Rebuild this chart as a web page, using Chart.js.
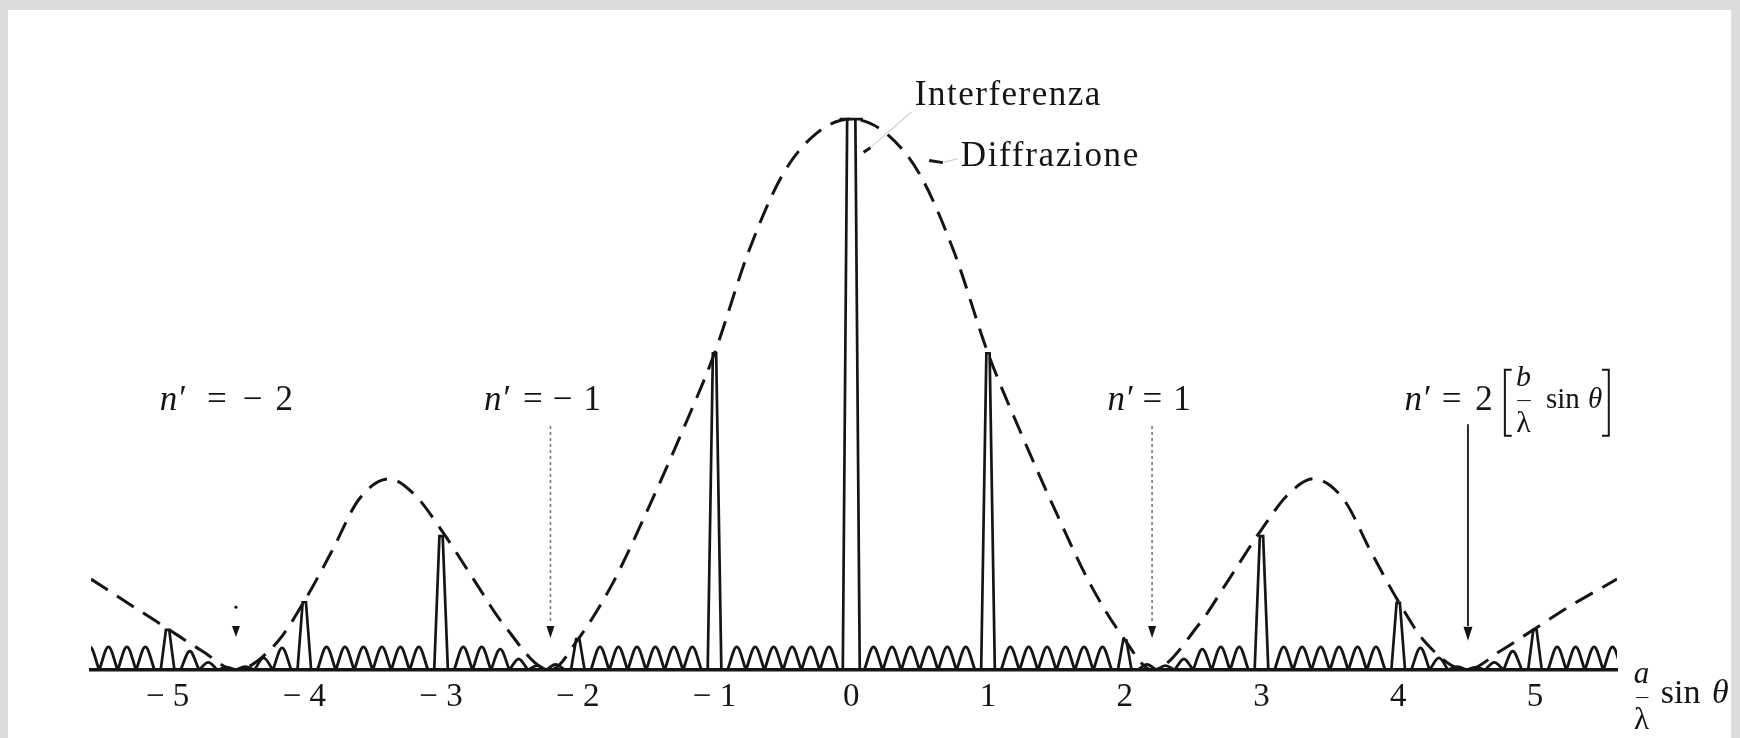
<!DOCTYPE html>
<html>
<head>
<meta charset="utf-8">
<script src="https://cdn.jsdelivr.net/npm/chart.js@4.4.1/dist/chart.umd.min.js"></script>
<style>
  html, body { margin: 0; padding: 0; width: 1740px; height: 738px; overflow: hidden; background: #dcdcdc; }
  #frame { position: absolute; left: 8px; top: 10px; width: 1723px; height: 728px; background: #fff; }
  canvas { display: block; }
</style>
</head>
<body>
<div id="frame"><canvas id="fig" width="1723" height="728"></canvas></div>
<script>
// Principal (interference) maxima, abscissa in units of (a/λ) sin θ, central maximum = 100
const orders = [-5, -4, -3, -2, -1, 0, 1, 2, 3, 4, 5];
const orderHeights = [7.3, 12.3, 24.3, 5.6, 57.5, 100, 57.5, 5.4, 24.3, 12.2, 7.3];

// Diffraction envelope (dashed curve)
const envelopeX = [-5.56, -5.25, -5.0, -4.75, -4.5, -4.2, -4.0, -3.8, -3.6, -3.38, -3.2, -3.0, -2.75, -2.55, -2.2,
                   -2.0, -1.75, -1.5, -1.25, -1.0, -0.75, -0.5, -0.25, 0, 0.25, 0.5, 0.75, 1.0, 1.25, 1.5, 1.75, 2.0,
                   2.2, 2.55, 2.75, 3.0, 3.2, 3.38, 3.6, 3.8, 4.0, 4.2, 4.5, 4.75, 5.0, 5.25, 5.6];
const envelopeY = [16.5, 11.5, 7.5, 3.5, 0, 5, 12.5, 21.5, 31, 34.7, 32, 25.5, 16, 8.5, 0,
                   5.5, 15.5, 28.5, 42.5, 57.5, 76, 90, 97.5, 100, 97.5, 90, 76, 57.5, 42.5, 28.5, 15.5, 5.5,
                   0, 8.5, 16, 25.5, 32, 34.7, 31, 21.5, 12.5, 5, 0, 3.5, 7.5, 11.5, 16.5];

// Secondary maxima: six between each pair of neighbouring orders
const rippleStarts = [-6, -5, -4, -3, -2, -1, 0, 1, 2, 3, 4, 5];
const rippleZeroOffsets = [0.095, 0.23, 0.365, 0.5, 0.635, 0.77, 0.905];
const rippleCrestOffsets = [0.1625, 0.2975, 0.4325, 0.5675, 0.7025, 0.8375];
const rippleHeights = [
  [null, null, 4.2, 4.2, 4.2, 4.2],
  [3.4, 1.4, 0.5, 0.6, 2.2, 4.0],
  [4.2, 4.2, 4.2, 4.2, 4.2, 4.2],
  [4.2, 4.2, 3.8, 2.0, 0.8, 1.0],
  [4.2, 4.2, 4.2, 4.2, 4.2, 4.2],
  [4.2, 4.2, 4.2, 4.2, 4.2, 4.2],
  [4.2, 4.2, 4.2, 4.2, 4.2, 4.2],
  [4.2, 4.2, 4.2, 4.2, 4.2, 4.2],
  [1.0, 0.8, 2.0, 3.8, 4.2, 4.2],
  [4.2, 4.2, 4.2, 4.2, 4.2, 4.2],
  [4.0, 2.2, 0.6, 0.5, 1.4, 3.4],
  [4.2, 4.2, 4.2, 4.2, null, null]
];

// Diffraction minima n′ and where they fall on the axis
const minimaOrders = [-2, -1, 1, 2];
const minimaX = [-4.5, -2.2, 2.2, 4.51];

// Axis ticks
const tickValues = [-5, -4, -3, -2, -1, 0, 1, 2, 3, 4, 5];
const tickLabels = ['− 5', '− 4', '− 3', '− 2', '− 1', '0', '1', '2', '3', '4', '5'];

// ---- drawing ----
const SERIF = '"Liberation Serif", "DejaVu Serif", serif';
const INK = '#151515';

const envelopeData = envelopeX.map((x, i) => ({ x, y: envelopeY[i] }));

// each secondary maximum is its own arch, separated by gaps so the arches meet in cusps
const rippleData = [];
rippleStarts.forEach((n, row) => {
  rippleHeights[row].forEach((h, k) => {
    if (h === null) return;
    const z0 = n + rippleZeroOffsets[k];
    const z1 = n + rippleZeroOffsets[k + 1];
    rippleData.push({ x: z0, y: 0 }, { x: n + rippleCrestOffsets[k], y: h }, { x: z1, y: 0 }, { x: z1, y: null });
  });
});

// narrow spikes for the principal maxima; the central one carries a small cap
const spikeBase = 0.05, spikeTop = 0.012;
const centreBase = 0.062, centreTop = 0.03, centreCap = 0.085;
const peakData = [];
orders.forEach((n, i) => {
  const h = orderHeights[i];
  if (n === 0) {
    peakData.push({ x: n - centreBase, y: 0 }, { x: n - centreTop, y: h }, { x: n - centreCap, y: h },
                  { x: n + centreCap, y: h }, { x: n + centreTop, y: h }, { x: n + centreBase, y: 0 });
  } else {
    peakData.push({ x: n - spikeBase, y: 0 }, { x: n - spikeTop, y: h }, { x: n + spikeTop, y: h }, { x: n + spikeBase, y: 0 });
  }
  peakData.push({ x: n, y: null });
});

// draws consecutive text runs, each [text, font, gap before it]
function drawRuns(ctx, parts, x, y, align) {
  let w = 0;
  parts.forEach(p => { ctx.font = p[1]; w += ctx.measureText(p[0]).width + (p[2] || 0); });
  let cx = align === 'center' ? x - w / 2 : x;
  parts.forEach(p => {
    ctx.font = p[1];
    cx += (p[2] || 0);
    ctx.fillText(p[0], cx, y);
    cx += ctx.measureText(p[0]).width;
  });
}

function arrowHead(ctx, x, yTip, w, h) {
  ctx.beginPath();
  ctx.moveTo(x, yTip);
  ctx.lineTo(x - w / 2, yTip - h);
  ctx.lineTo(x + w / 2, yTip - h);
  ctx.closePath();
  ctx.fill();
}

// label layout for the n′ marks
const minimaLabelX = [-4.57, -2.258, 2.178, 4.369];
const minimaLabelY = 48.8;
const minimaLabelGaps = [[2, 20, 16, 13], [2, 12, 10, 11], [2, 8, 11], [2, 10, 14]];

const annotations = {
  id: 'annotations',
  afterDatasetsDraw(chart) {
    const ctx = chart.ctx;
    const X = v => chart.scales.x.getPixelForValue(v);
    const Y = v => chart.scales.y.getPixelForValue(v);
    const reg = '35px ' + SERIF;
    const ita = 'italic 35px ' + SERIF;
    ctx.save();
    ctx.fillStyle = INK;
    ctx.strokeStyle = INK;
    ctx.textBaseline = 'middle';
    ctx.textAlign = 'left';

    // leaders for the two curve names
    ctx.lineWidth = 1.2;
    ctx.strokeStyle = '#cfcfcf';
    ctx.beginPath();
    ctx.moveTo(X(0.44), Y(101.3)); ctx.lineTo(X(0.13), Y(94.6));
    ctx.moveTo(X(0.78), Y(92.8)); ctx.lineTo(X(0.68), Y(92.2));
    ctx.stroke();
    ctx.lineWidth = 3;
    ctx.strokeStyle = INK;
    ctx.beginPath();
    ctx.moveTo(X(0.09), Y(94.0)); ctx.lineTo(X(0.14), Y(94.8));
    ctx.moveTo(X(0.57), Y(92.5)); ctx.lineTo(X(0.67), Y(92.1));
    ctx.stroke();

    ctx.font = '35px ' + SERIF;
    ctx.letterSpacing = '1.5px';
    ctx.fillText('Interferenza', X(0.465), Y(104.2));
    ctx.letterSpacing = '1.7px';
    ctx.fillText('Diffrazione', X(0.80), Y(93.2));
    ctx.letterSpacing = '0px';

    // n′ labels
    minimaOrders.forEach((m, i) => {
      const g = minimaLabelGaps[i];
      const parts = [['n', ita, 0], ['′', reg, g[0]], ['=', reg, g[1]]];
      if (m < 0) {
        parts.push(['−', reg, g[2]], [String(-m), reg, g[3]]);
      } else {
        parts.push([String(m), reg, g[2]]);
      }
      drawRuns(ctx, parts, X(minimaLabelX[i]), Y(minimaLabelY), 'center');
    });

    // arrows pointing at the diffraction minima
    // n′ = −2: just a head with a speck above
    ctx.beginPath();
    ctx.arc(X(minimaX[0]), Y(11.4), 1.6, 0, Math.PI * 2);
    ctx.fill();
    arrowHead(ctx, X(minimaX[0]), Y(6.0), 8, 11);
    // n′ = ±1: faint dotted stems
    [1, 2].forEach(i => {
      ctx.save();
      ctx.strokeStyle = '#777';
      ctx.lineWidth = 1.6;
      ctx.setLineDash([3, 3]);
      ctx.beginPath();
      ctx.moveTo(X(minimaX[i]), Y(44.3));
      ctx.lineTo(X(minimaX[i]), Y(8.5));
      ctx.stroke();
      ctx.restore();
      arrowHead(ctx, X(minimaX[i]), Y(5.8), 8, 12);
    });
    // n′ = 2: solid stem
    ctx.lineWidth = 1.8;
    ctx.beginPath();
    ctx.moveTo(X(minimaX[3]), Y(44.6));
    ctx.lineTo(X(minimaX[3]), Y(8.0));
    ctx.stroke();
    arrowHead(ctx, X(minimaX[3]), Y(5.3), 9, 14);

    // [ (b/λ) sin θ ]
    ctx.lineWidth = 2;
    ctx.beginPath();
    ctx.moveTo(X(4.83), Y(54.5)); ctx.lineTo(X(4.78), Y(54.5)); ctx.lineTo(X(4.78), Y(42.5)); ctx.lineTo(X(4.83), Y(42.5));
    ctx.moveTo(X(5.49), Y(54.5)); ctx.lineTo(X(5.54), Y(54.5)); ctx.lineTo(X(5.54), Y(42.5)); ctx.lineTo(X(5.49), Y(42.5));
    ctx.stroke();
    ctx.textAlign = 'center';
    ctx.font = 'italic 30px ' + SERIF;
    ctx.fillText('b', X(4.917), Y(53.0));
    ctx.font = '30px ' + SERIF;
    ctx.fillText('λ', X(4.917), Y(44.6));
    ctx.lineWidth = 1;
    ctx.beginPath();
    ctx.moveTo(X(4.87), Y(48.9)); ctx.lineTo(X(4.97), Y(48.9));
    ctx.stroke();
    ctx.textAlign = 'left';
    drawRuns(ctx, [['sin ', '29px ' + SERIF, 0], ['θ', 'italic 29px ' + SERIF, 1]], X(5.08), Y(49.0), 'left');

    // axis quantity (a/λ) sin θ
    ctx.textAlign = 'center';
    ctx.font = 'italic 31px ' + SERIF;
    ctx.fillText('a', X(5.78), Y(-0.9));
    ctx.font = '31px ' + SERIF;
    ctx.fillText('λ', X(5.78), Y(-9.3));
    ctx.lineWidth = 1;
    ctx.beginPath();
    ctx.moveTo(X(5.74), Y(-5.0)); ctx.lineTo(X(5.83), Y(-5.0));
    ctx.stroke();
    ctx.textAlign = 'left';
    drawRuns(ctx, [['sin ', '34px ' + SERIF, 0], ['θ', 'italic 34px ' + SERIF, 3]], X(5.92), Y(-4.3), 'left');

    ctx.restore();
  }
};

new Chart(document.getElementById('fig'), {
  type: 'line',
  data: {
    datasets: [
      {
        label: 'Diffrazione',
        data: envelopeData,
        borderColor: INK,
        borderWidth: 3,
        borderDash: [20, 11],
        cubicInterpolationMode: 'monotone',
        pointRadius: 0,
        fill: false
      },
      {
        label: 'Interferenza',
        data: rippleData,
        borderColor: INK,
        borderWidth: 2.8,
        tension: 0.35,
        pointRadius: 0,
        spanGaps: false,
        fill: false
      },
      {
        label: 'Massimi principali',
        data: peakData,
        borderColor: INK,
        borderWidth: 2.7,
        tension: 0,
        pointRadius: 0,
        spanGaps: false,
        fill: false
      }
    ]
  },
  options: {
    responsive: false,
    animation: false,
    events: [],
    layout: { padding: { left: 83, right: 114, top: 54, bottom: 10 } },
    plugins: { legend: { display: false }, title: { display: false }, tooltip: { enabled: false } },
    scales: {
      x: {
        type: 'linear',
        min: -5.56,
        max: 5.6,
        afterFit: s => { s.height = 58; },
        afterBuildTicks: s => { s.ticks = tickValues.map(v => ({ value: v })); },
        grid: { display: false, drawTicks: false },
        border: { display: true, color: INK, width: 3.5 },
        ticks: {
          autoSkip: false,
          maxRotation: 0,
          padding: 8,
          color: INK,
          font: { family: SERIF, size: 33 },
          callback: v => tickLabels[tickValues.indexOf(v)]
        }
      },
      y: {
        display: false,
        min: 0,
        max: 110
      }
    }
  },
  plugins: [annotations]
});
</script>
</body>
</html>
